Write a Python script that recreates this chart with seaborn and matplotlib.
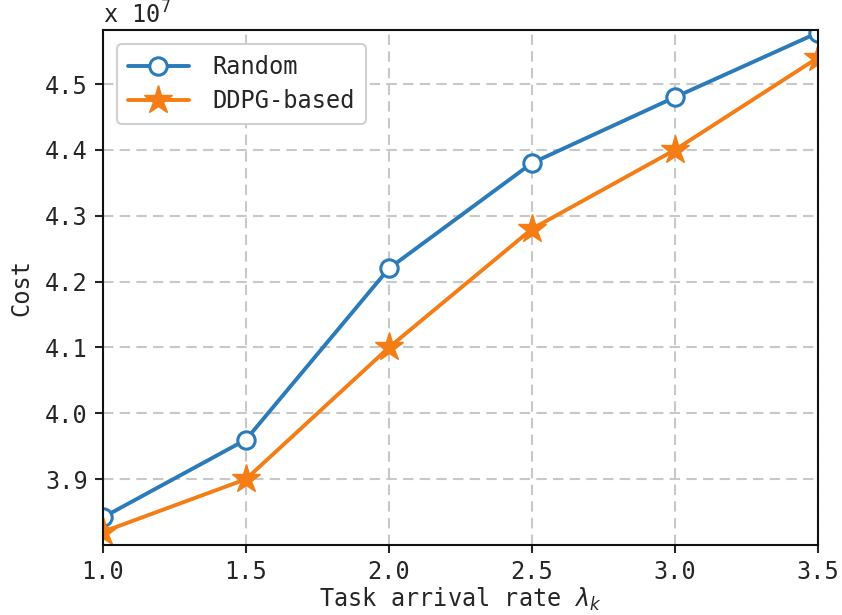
import matplotlib
matplotlib.use("Agg")
import matplotlib.pyplot as plt
import seaborn as sns
import numpy as np

# data
arrival_rate = [1.0, 1.5, 2.0, 2.5, 3.0, 3.5]
cost_random = [3.842e7, 3.96e7, 4.22e7, 4.38e7, 4.48e7, 4.578e7]
cost_ddpg = [3.82e7, 3.90e7, 4.10e7, 4.28e7, 4.40e7, 4.54e7]
x_ticks = [1.0, 1.5, 2.0, 2.5, 3.0, 3.5]
y_ticks = [3.9e7, 4.0e7, 4.1e7, 4.2e7, 4.3e7, 4.4e7, 4.5e7]
y_tick_labels = ["3.9", "4.0", "4.1", "4.2", "4.3", "4.4", "4.5"]

sns.set_style("ticks")
plt.rcParams['font.family'] = ['DejaVu Sans Mono', 'DejaVu Sans']
plt.rcParams['mathtext.fontset'] = 'dejavusans'

fig = plt.figure(figsize=(8.42, 6.15), dpi=100)
ax = fig.add_axes([0.1223, 0.1138, 0.8492, 0.8374])

blue = '#2b7bba'
orange = '#f57d15'

sns.lineplot(x=arrival_rate, y=cost_random, ax=ax, color=blue, lw=2.8,
             marker='o', markersize=12.5, markerfacecolor='white',
             markeredgecolor=blue, markeredgewidth=2.2, label='Random')
sns.lineplot(x=arrival_rate, y=cost_ddpg, ax=ax, color=orange, lw=2.8,
             marker='*', markersize=21, markerfacecolor=orange,
             markeredgecolor=orange, markeredgewidth=1, label='DDPG-based')

ax.set_xlim(1.0, 3.5)
ax.set_ylim(3.80e7, 4.582e7)
ax.set_xticks(x_ticks)
ax.set_xticklabels([f"{v:.1f}" for v in x_ticks])
ax.set_yticks(y_ticks)
ax.set_yticklabels(y_tick_labels)
ax.tick_params(axis='both', labelsize=17, length=6, width=1.5, direction='out', pad=5)
ax.grid(True, linestyle='--', color='#c8c8c8', linewidth=1.5, dashes=(5, 3))
for s in ax.spines.values():
    s.set_linewidth(1.5)
    s.set_color('#111111')

ax.set_xlabel(r"Task arrival rate $\lambda_k$", fontsize=17, labelpad=1)
ax.set_ylabel("Cost", fontsize=17, labelpad=8)
ax.text(0.0, 1.003, r"x $\mathregular{10^7}$", transform=ax.transAxes,
        fontsize=17, ha='left', va='bottom')

leg = ax.legend(loc='upper left', fontsize=17, frameon=True, fancybox=True,
                framealpha=1.0, edgecolor='#d0d0d0', handlelength=2.6,
                borderpad=0.45, labelspacing=0.45, borderaxespad=0.6,
                handletextpad=1.0)
leg.get_frame().set_linewidth(1.5)

fig.savefig("out.png", dpi=100)
